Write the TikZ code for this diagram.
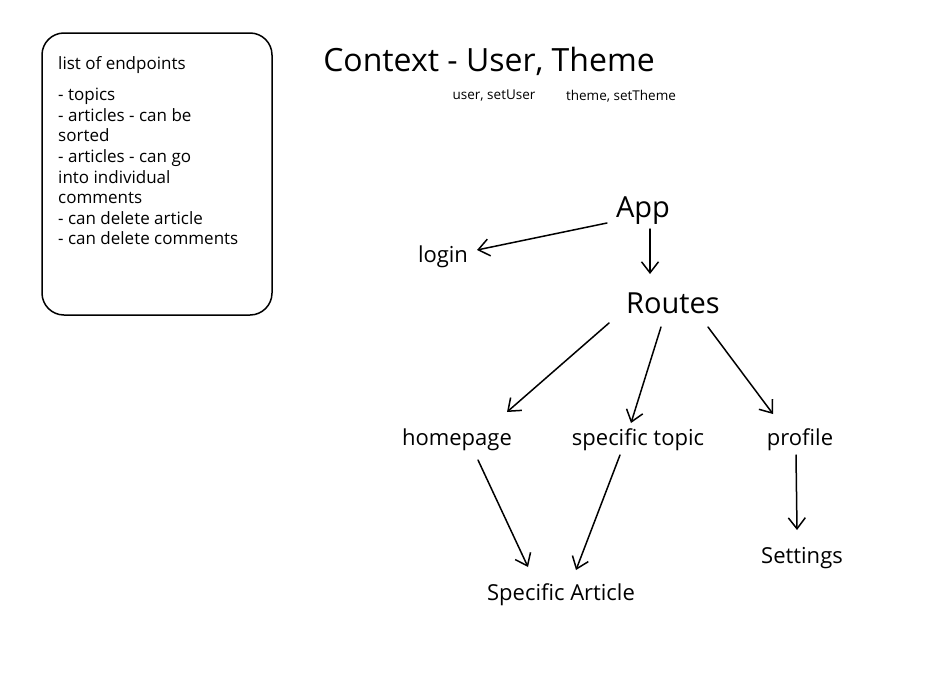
\documentclass[tikz,border=0pt]{standalone}
\usepackage{fontspec}
\setmainfont{Open Sans}
\usetikzlibrary{calc,arrows.meta}
\tikzset{
  lbl/.style={inner sep=0pt, text=black},
  big/.style={lbl, font=\fontsize{29}{34}\selectfont},
  mid/.style={lbl, font=\fontsize{22}{26}\selectfont},
  conn/.style={line width=1.5pt, line cap=round, -{Straight Barb[length=11pt,width=17pt,line width=1.5pt]}}
}
\begin{document}
\begin{tikzpicture}[x=1pt,y=-1pt]
\useasboundingbox[fill=white] (0,0) rectangle (934,672);
% list box
\node (box) [draw, line width=1.5pt, rounded corners=22pt, minimum width=230pt, minimum height=282pt, inner sep=0pt] at (157,174) {};
\node (listtitle) [lbl, anchor=base west, font=\fontsize{17}{20.6}\selectfont] at (58,69) {list of endpoints};
\node (list) [lbl, anchor=north west, align=left, font=\fontsize{17}{20.6}\selectfont] at (58,88)
  {- topics\\- articles - can be\\sorted\\- articles - can go\\into individual\\comments\\- can delete article\\- can delete comments};
% title
\node (title) [lbl, font=\fontsize{32}{38}\selectfont] at (489,61) {Context - User, Theme};
\node (user) [lbl, font=\fontsize{13.5}{16}\selectfont] at (494,96) {user, setUser};
\node (theme) [lbl, font=\fontsize{13.5}{16}\selectfont] at (621,96) {theme, setTheme};
% nodes
\node (app) [big] at (643,211) {App};
\node (login) [mid] at (443,257) {login};
\node (routes) [big] at (673,303) {Routes};
\node (home) [mid] at (457,440) {homepage};
\node (topic) [mid] at (638,440) {specific topic};
\node (profile) [mid] at (800,440) {profile};
\node (settings) [mid] at (802,558) {Settings};
\node (article) [mid] at (561,595) {Specific Article};
% connectors
\draw[conn] ($(app)+(-36,12)$) -- ($(login)+(34,-7)$);
\draw[conn] ($(app)+(7,18)$) -- ($(routes)+(-23,-29)$);
\draw[conn] ($(routes)+(-64,20)$) -- ($(home)+(50,-28)$);
\draw[conn] ($(routes)+(-12,24)$) -- ($(topic)+(-7,-17)$);
\draw[conn] ($(routes)+(35,24)$) -- ($(profile)+(-27,-26)$);
\draw[conn] ($(home)+(21,20)$) -- ($(article)+(-33,-28)$);
\draw[conn] ($(topic)+(-18,15)$) -- ($(article)+(15,-25)$);
\draw[conn] ($(profile)+(-4,15)$) -- ($(settings)+(-5,-28)$);
\end{tikzpicture}
\end{document}
